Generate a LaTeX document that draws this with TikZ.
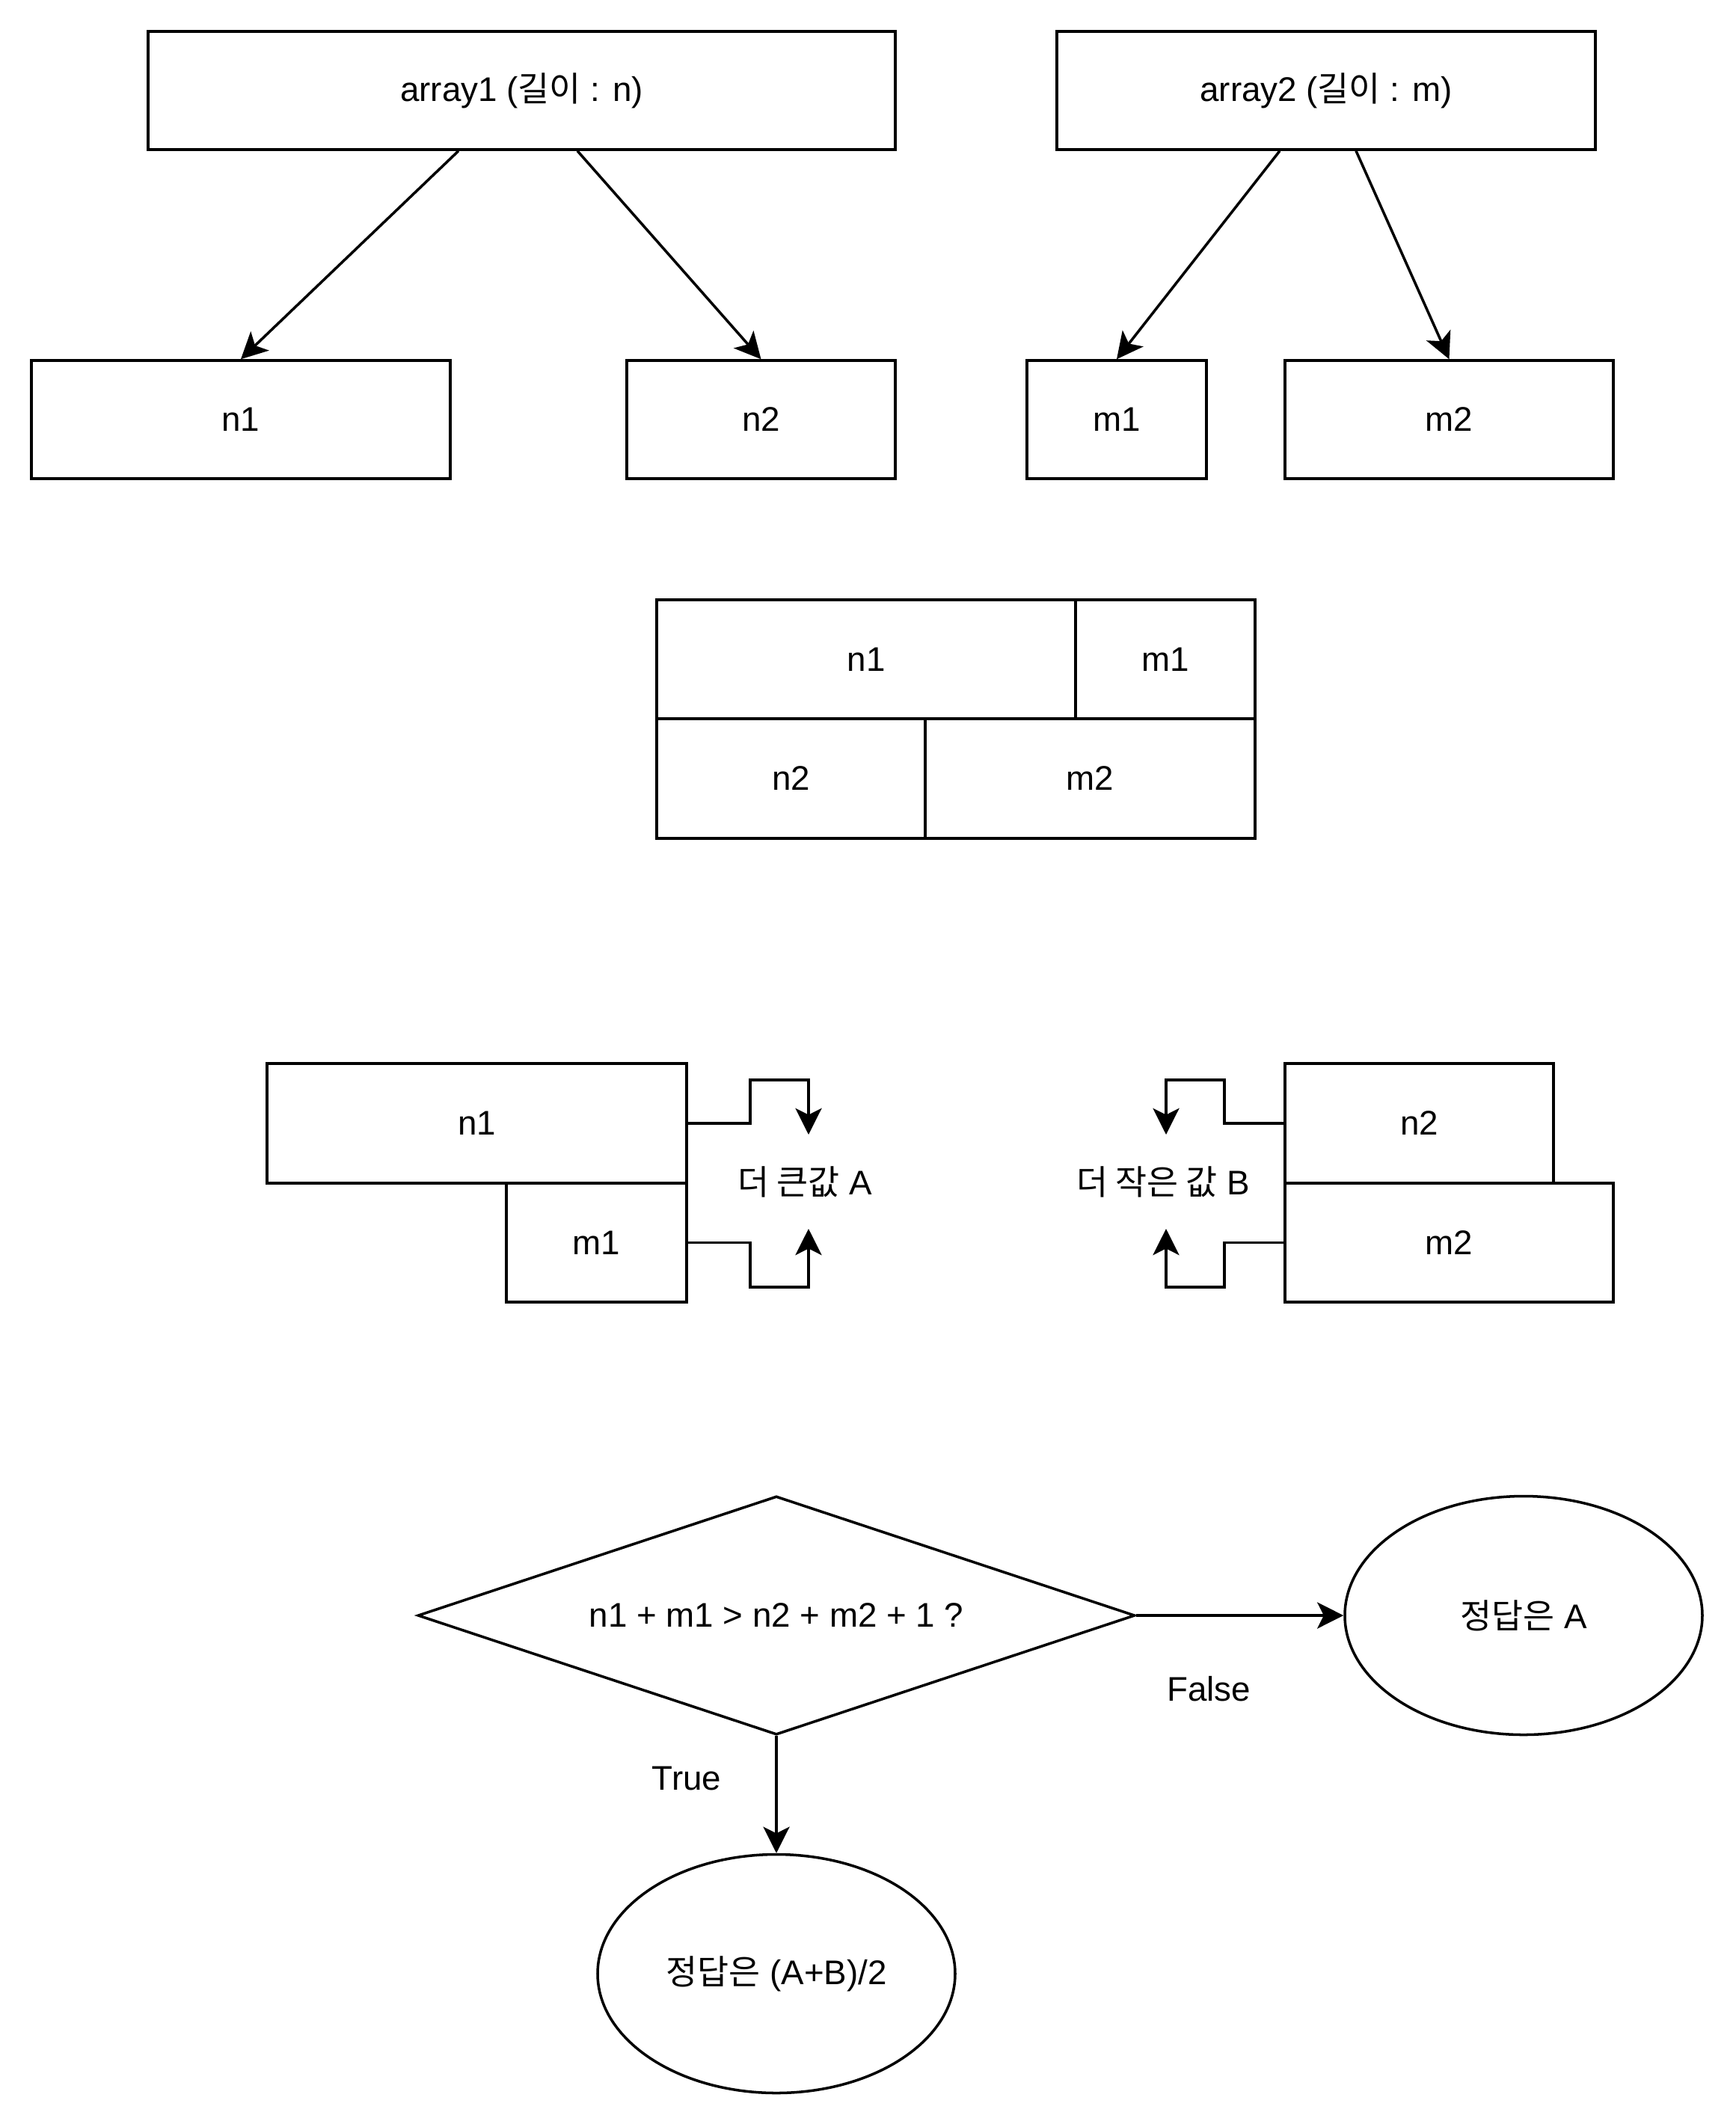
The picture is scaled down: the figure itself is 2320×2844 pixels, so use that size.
\documentclass[tikz,border=0pt]{standalone}
\usepackage{fontspec}
\setmainfont{Liberation Sans}
\newfontfamily\krfont{Noto Sans CJK KR}
\newcommand\kr[1]{{\krfont #1}}
\usetikzlibrary{arrows.meta,shapes.geometric}
\newlength\px
\setlength\px{0.01cm}
\begin{document}
\begin{tikzpicture}[x=0.01cm,y=-0.01cm,
  txt/.style={font=\fontsize{13}{15.6}\selectfont},
  box/.style={draw, line width=1pt, rectangle, inner sep=0pt, txt},
  lbl/.style={inner sep=0pt, txt},
  arr/.style={line width=1pt, -{Stealth[length=10pt,width=10pt,inset=2.5pt]}},
  ]
\useasboundingbox (0,0) rectangle (2320,2844);

% top row
\node[box, minimum width=999\px, minimum height=158\px] (a1) at (697.5,121) {array1 (\kr{길이} : n)};
\node[box, minimum width=720\px, minimum height=158\px] (a2) at (1773,121) {array2 (\kr{길이} : m)};
\node[box, minimum width=560\px, minimum height=158\px] (tn1) at (322,561) {n1};
\node[box, minimum width=359\px, minimum height=158\px] (tn2) at (1017.5,561) {n2};
\node[box, minimum width=240\px, minimum height=158\px] (tm1) at (1493,561) {m1};
\node[box, minimum width=439\px, minimum height=158\px] (tm2) at (1937.5,561) {m2};

\draw[arr] ([xshift=-84.5\px]a1.south) -- (tn1.north);
\draw[arr] ([xshift=74.5\px]a1.south) -- (tn2.north);
\draw[arr] ([xshift=-62\px]a2.south) -- (tm1.north);
\draw[arr] ([xshift=40\px]a2.south) -- (tm2.north);

% middle block
\node[box, minimum width=560\px, minimum height=159\px] (cn1) at (1158,881.5) {n1};
\node[box, minimum width=240\px, minimum height=159\px] (cm1) at (1558,881.5) {m1};
\node[box, minimum width=359\px, minimum height=160\px] (cn2) at (1057.5,1041) {n2};
\node[box, minimum width=441\px, minimum height=160\px] (cm2) at (1457.5,1041) {m2};

% lower block
\node[box, minimum width=561\px, minimum height=160\px] (ln1) at (637.5,1502) {n1};
\node[box, minimum width=241\px, minimum height=159\px] (lm1) at (797.5,1661.5) {m1};
\node[box, minimum width=359\px, minimum height=160\px] (ln2) at (1897.5,1502) {n2};
\node[box, minimum width=439\px, minimum height=159\px] (lm2) at (1937.5,1661.5) {m2};

\node[lbl] (lblA) at (1076,1580) {\kr{더 큰값} A};
\node[lbl] (lblB) at (1555,1580) {\kr{더 작은 값} B};

\coordinate (tA1) at (1081,1517);
\coordinate (tA2) at (1081,1643);
\coordinate (tB1) at (1559,1517);
\coordinate (tB2) at (1559,1643);

\draw[arr] (ln1.east) -- ++(83,0) -- ++(0,-58) -| (tA1);
\draw[arr] (lm1.east) -- ++(83,0) -- ++(0,59.5) -| (tA2);
\draw[arr] (ln2.west) -- ++(-79,0) -- ++(0,-58) -| (tB1);
\draw[arr] (lm2.west) -- ++(-79,0) -- ++(0,59.5) -| (tB2);

% flowchart
\node[draw, line width=1pt, diamond, aspect=3, inner sep=0pt,
      minimum width=959\px, minimum height=319\px, txt] (dia) at (1038,2160) {n1 + m1 > n2 + m2 + 1 ?};
\node[draw, line width=1pt, ellipse, inner sep=0pt,
      minimum width=478\px, minimum height=319\px, txt] (eA) at (2037,2160) {\kr{정답은} A};
\node[draw, line width=1pt, ellipse, inner sep=0pt,
      minimum width=478\px, minimum height=319\px, txt] (eAB) at (1038,2639) {\kr{정답은} (A+B)/2};

\draw[arr] (dia.east) -- (eA.west);
\draw[arr] (dia.south) -- (eAB.north);

\node[lbl] (lblF) at (1616,2258) {False};
\node[lbl] (lblT) at (918,2378) {True};
\end{tikzpicture}
\end{document}
